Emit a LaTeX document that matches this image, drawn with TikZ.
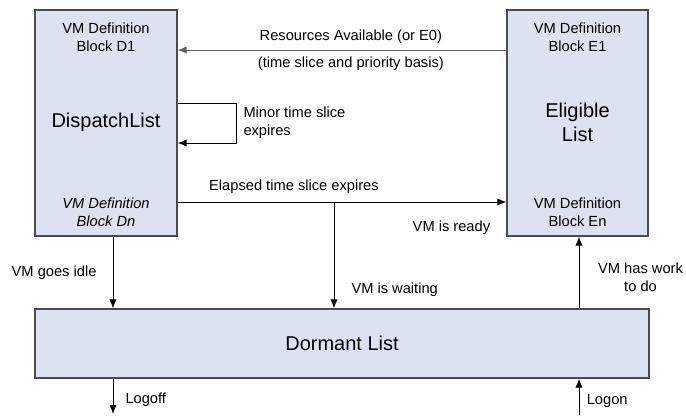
\documentclass[tikz,border=0pt]{standalone}
\usepackage{fontspec}
\setmainfont{Liberation Sans}
\usetikzlibrary{shapes, arrows.meta, positioning}
\definecolor{listfill}{RGB}{220,226,241}
\definecolor{listdraw}{RGB}{75,75,75}
\tikzstyle{block} = [ rectangle, draw=listdraw, line width=1pt, fill=listfill, inner sep=0pt ]
\tikzstyle{line} = [ draw, line width=0.75pt, -{Latex[length=6.75pt,width=5.5pt]} ]
\tikzstyle{lbl} = [ font=\fontsize{11}{13.3}\selectfont, inner sep=0pt, align=center ]
\tikzstyle{lbli} = [ font=\fontsize{11}{13.3}\selectfont\itshape, inner sep=0pt, align=center ]
\tikzstyle{big} = [ font=\fontsize{15}{18}\selectfont, inner sep=0pt, align=center ]

\begin{document}
\begin{tikzpicture}[x=0.75pt, y=-0.75pt]
\useasboundingbox (0,0) rectangle (686,415);

% the three lists
\node [block, minimum width=106.5pt, minimum height=169.5pt] (dispatch) at (106,123) {};
\node [block, minimum width=105.75pt, minimum height=169.5pt] (eligible) at (577.5,123) {};
\node [block, minimum width=460.5pt, minimum height=51.75pt] (dormant) at (342,343.5) {};

\node [lbl] (d1) at (106,37) {VM Definition\\Block D1};
\node [big] (dname) at (106,122) {DispatchList};
\node [lbli] (dn) at (106,212) {VM Definition\\Block Dn};
\node [lbl] (e1) at (577.5,37) {VM Definition\\Block E1};
\node [big] (ename) at (577.5,122) {Eligible\\List};
\node [lbl] (en) at (577.5,212) {VM Definition\\Block En};
\node [big] (dormname) at (342,343) {Dormant List};

\coordinate (split) at (334,202);
\coordinate (logoff) at (113,414);
\coordinate (logon) at (579,415);

% transitions
\path [line, draw=black!62] (eligible.west |- 0,50) -- (dispatch.east |- 0,50)
  node [lbl, pos=0.473, yshift=9.75pt] {Resources Available (or E0)}
  node [lbl, pos=0.473, yshift=-10.5pt] {(time slice and priority basis)};
\path [line] (dispatch.east |- 0,103) -- (236,103) -- (236,143)
  node [lbl, midway, right=5.25pt, align=left] {Minor time slice\\expires}
  -- (dispatch.east |- 0,143);
\path [line] (dispatch.east |- split) -- (eligible.west |- split)
  node [lbl, pos=0, anchor=west, xshift=23.25pt, yshift=11.25pt] {Elapsed time slice expires}
  node [lbl, pos=0.833, yshift=-19.5pt] {VM is ready};
\path [line] (split) -- (split |- dormant.north)
  node [lbl, pos=0.822, anchor=west, xshift=12.75pt] {VM is waiting};
\path [line] ([xshift=5.25pt]dispatch.south) -- ([xshift=5.25pt]dispatch.south |- dormant.north)
  node [lbl, midway, left=12pt] {VM goes idle};
\path [line] (logon |- dormant.north) -- (logon |- eligible.south)
  node [lbl, midway, right=14pt, yshift=-3.75pt] {VM has work\\to do};
\path [line] (dormant.south -| logoff) -- (logoff)
  node [lbl, midway, right=9pt, yshift=-2.6pt] {Logoff};
\path [line] (logon) -- (dormant.south -| logon)
  node [lbl, midway, right=5.5pt, yshift=-3pt] {Logon};
\end{tikzpicture}
\end{document}
